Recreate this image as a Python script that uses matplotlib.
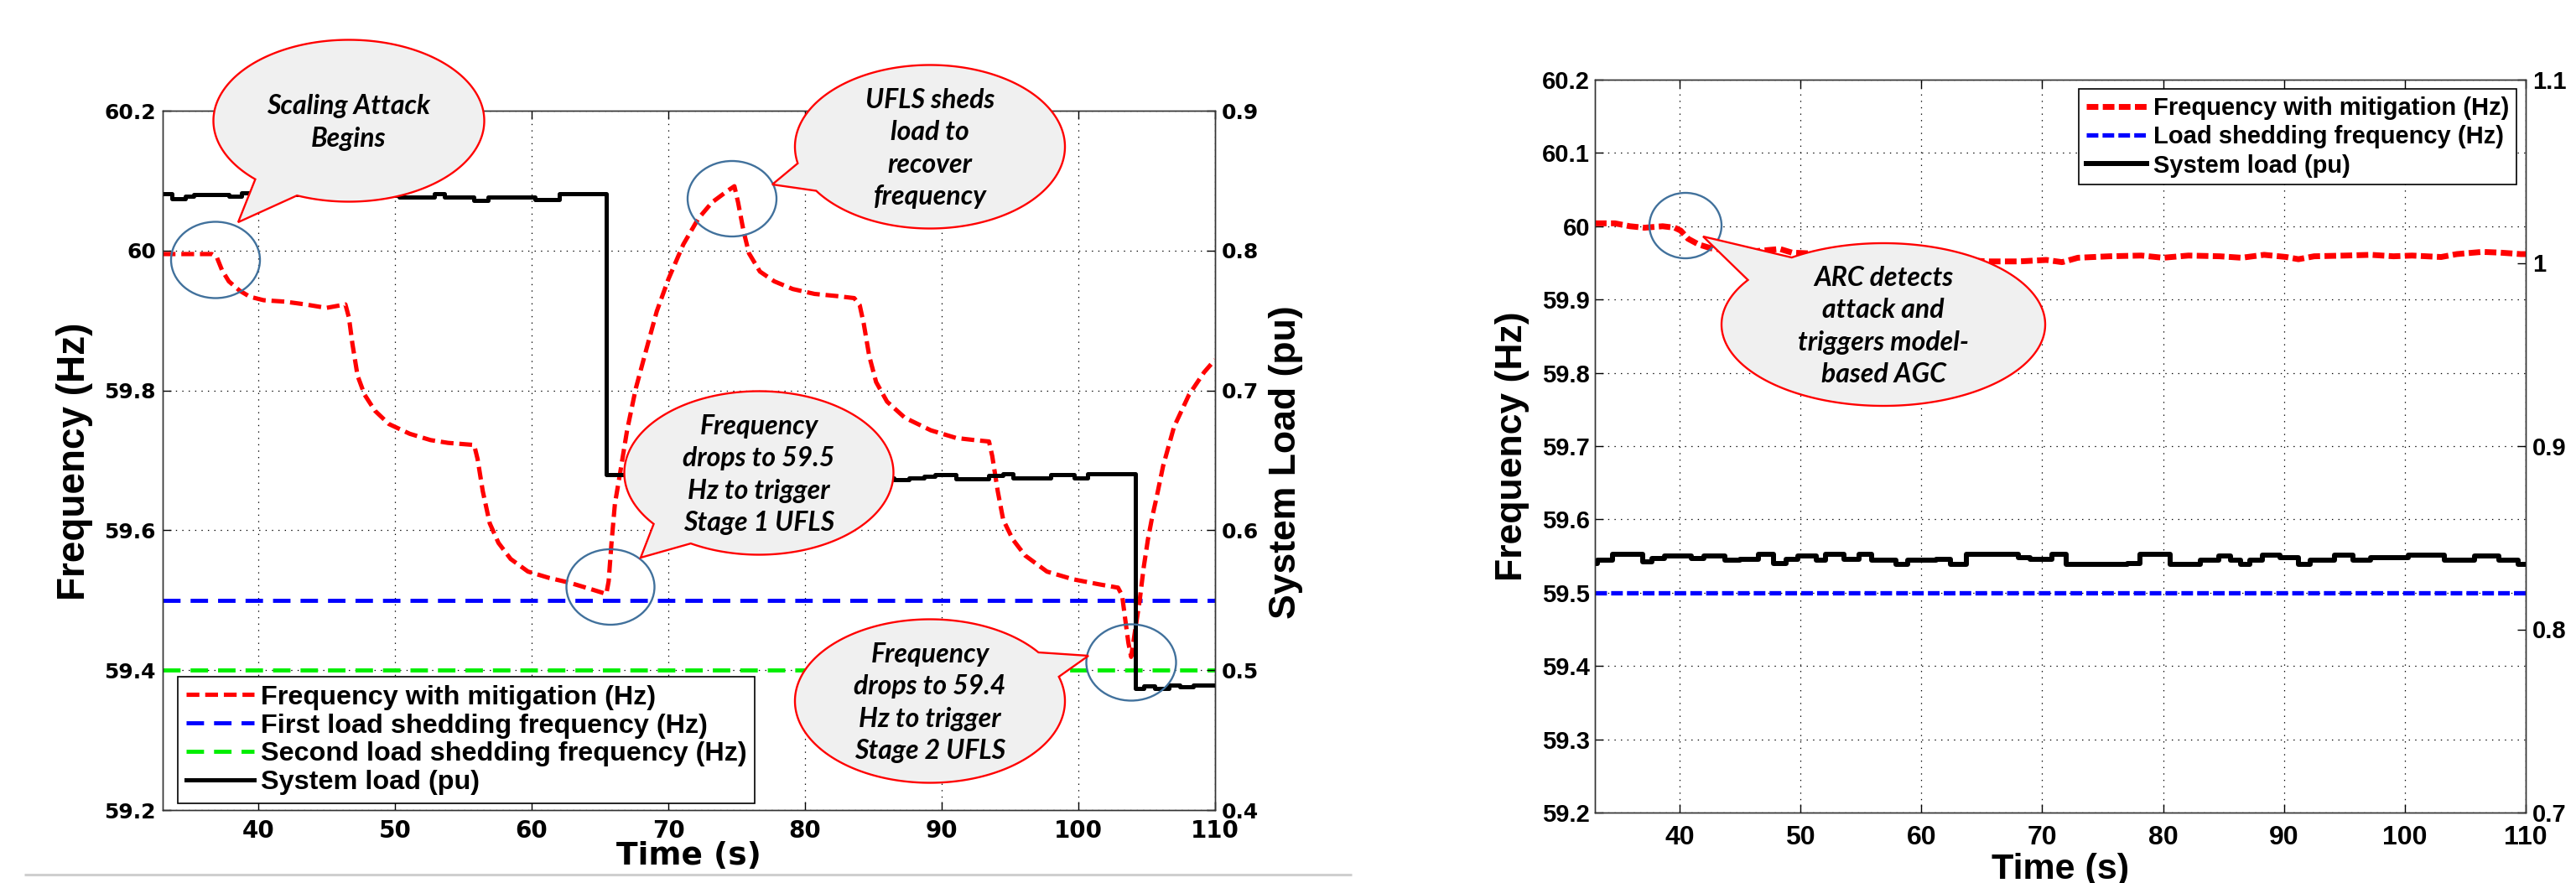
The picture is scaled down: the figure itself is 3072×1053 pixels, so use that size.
import matplotlib
matplotlib.use('Agg')
import matplotlib.pyplot as plt
import numpy as np
from matplotlib.patches import Ellipse, Polygon
from matplotlib.lines import Line2D

plt.rcParams['lines.scale_dashes'] = False

# ---------------- data: left panel ----------------
t_freq_left = [33.0, 36.6, 36.95, 37.34, 37.84, 38.61, 39.37, 40.39, 41.92, 43.44, 44.97, 46.37, 46.63, 46.88,
               47.26, 47.77, 48.53, 49.55, 51.08, 52.6, 53.88, 55.79, 56.04, 56.42, 56.93, 57.57, 58.46, 59.73,
               61.26, 62.78, 64.31, 65.46, 65.63, 65.84, 66.09, 66.48, 66.98, 67.62, 68.38, 69.15, 70.0, 71.1,
               72.2, 73.2, 74.3, 74.83, 75.1, 75.5, 75.9, 76.7, 77.75, 79.1, 80.7, 82.3, 83.6, 84.0, 84.3, 84.7,
               85.2, 86.0, 87.3, 89.2, 91.06, 92.4, 93.46, 93.7, 94.1, 94.5, 95.2, 96.1, 97.7, 99.6, 101.45,
               102.9, 103.2, 103.44, 103.66, 103.86, 104.17, 104.48, 104.78, 105.09, 105.4, 105.7, 106.2, 107.0,
               108.1, 109.2, 110.0]
freq_left = [59.995, 59.995, 59.991, 59.972, 59.956, 59.943, 59.934, 59.929, 59.927, 59.923, 59.918, 59.923,
             59.904, 59.867, 59.821, 59.794, 59.771, 59.752, 59.738, 59.729, 59.725, 59.722, 59.702, 59.656,
             59.61, 59.582, 59.559, 59.541, 59.532, 59.525, 59.516, 59.509, 59.527, 59.582, 59.638, 59.683,
             59.743, 59.803, 59.858, 59.913, 59.959, 60.009, 60.046, 60.069, 60.085, 60.092, 60.069, 60.028,
             59.996, 59.970, 59.956, 59.945, 59.938, 59.935, 59.932, 59.922, 59.895, 59.849, 59.812, 59.784,
             59.761, 59.743, 59.732, 59.729, 59.727, 59.706, 59.656, 59.615, 59.587, 59.564, 59.541, 59.530,
             59.523, 59.518, 59.507, 59.471, 59.439, 59.419, 59.459, 59.499, 59.547, 59.587, 59.619, 59.645,
             59.692, 59.748, 59.794, 59.826, 59.844]

t_load_left = [33.0, 33.65, 34.66, 35.3, 37.84, 38.74, 41.5, 46.5, 50.3, 52.86, 53.6, 55.79, 56.8, 60.24, 62.0,
               65.46, 70.0, 78.0, 86.5, 87.6, 88.7, 89.5, 91.06, 93.46, 94.5, 95.2, 98.0, 99.7, 100.65,
               104.15, 104.8, 105.6, 106.6, 107.4, 108.4, 108.7, 110.0]
load_left = [0.8409, 0.8373, 0.8387, 0.8402, 0.8391, 0.8414, 0.8400, 0.8392, 0.8384, 0.8409, 0.8380, 0.8361,
             0.8384, 0.8364, 0.8409, 0.6400, 0.6388, 0.6375, 0.6361, 0.6372, 0.6384, 0.6400, 0.6368, 0.6391,
             0.6407, 0.6377, 0.6400, 0.6377, 0.6407, 0.4871, 0.4885, 0.4871, 0.4895, 0.4881, 0.4895, 0.4891,
             0.4891]

stage1_freq = 59.5
stage2_freq = 59.4

# ---------------- data: right panel ----------------
t_freq_right = [33.0, 34.65, 35.9, 37.1, 38.6, 39.6, 40.1, 40.7, 41.6, 42.6, 44.06, 45.55, 47.0, 48.3, 49.3,
                63.1, 65.6, 68.1, 70.34, 71.65, 72.95, 75.56, 78.2, 80.0, 82.1, 84.7, 86.5, 88.36, 90.2, 91.2,
                92.5, 95.1, 97.2, 99.06, 100.6, 103.0, 104.3, 106.4, 107.9, 109.6, 110.0]
freq_right = [60.004, 60.004, 60.0, 59.998, 60.0, 59.998, 59.994, 59.983, 59.975, 59.97, 59.967, 59.965, 59.967,
              59.969, 59.964, 59.954, 59.952, 59.952, 59.954, 59.951, 59.957, 59.959, 59.960, 59.957, 59.96,
              59.959, 59.957, 59.961, 59.958, 59.955, 59.959, 59.960, 59.961, 59.959, 59.960, 59.958, 59.962,
              59.965, 59.964, 59.962, 59.962]

t_load_right = [33.0, 33.2, 34.44, 36.96, 37.72, 38.73, 41.0, 42.0, 43.77, 45.03, 46.55, 47.8, 48.8, 49.8, 51.34,
                52.1, 53.6, 54.87, 55.88, 57.9, 58.9, 61.2, 62.4, 63.7, 68.0, 69.0, 70.8, 72.0, 77.07, 78.1,
                80.6, 83.1, 84.6, 85.6, 86.4, 87.2, 88.2, 89.7, 91.2, 92.2, 94.2, 95.7, 97.2, 100.3, 103.3,
                105.8, 107.8, 109.4, 110.0]
load_right = [0.8361, 0.8376, 0.8411, 0.8368, 0.8387, 0.8402, 0.8387, 0.8402, 0.8376, 0.8381, 0.8410, 0.8361,
              0.8384, 0.8399, 0.8376, 0.8410, 0.8381, 0.8410, 0.8376, 0.8356, 0.8376, 0.8381, 0.8353, 0.8410,
              0.8391, 0.8381, 0.8410, 0.8356, 0.8361, 0.8410, 0.8356, 0.8376, 0.8402, 0.8376, 0.8353, 0.8376,
              0.8407, 0.8391, 0.8353, 0.8376, 0.8407, 0.8376, 0.8391, 0.8407, 0.8376, 0.8402, 0.8376, 0.8353,
              0.8353]
shed_freq_right = 59.5

x_ticks = [40, 50, 60, 70, 80, 90, 100, 110]
yL_ticks = [59.2, 59.4, 59.6, 59.8, 60.0, 60.2]
yL_labels = ['59.2', '59.4', '59.6', '59.8', '60', '60.2']
yL2_ticks = [0.4, 0.5, 0.6, 0.7, 0.8, 0.9]
yL2_labels = ['0.4', '0.5', '0.6', '0.7', '0.8', '0.9']
yR_ticks = [59.2, 59.3, 59.4, 59.5, 59.6, 59.7, 59.8, 59.9, 60.0, 60.1, 60.2]
yR_labels = ['59.2', '59.3', '59.4', '59.5', '59.6', '59.7', '59.8', '59.9', '60', '60.1', '60.2']
yR2_ticks = [0.7, 0.8, 0.9, 1.0, 1.1]
yR2_labels = ['0.7', '0.8', '0.9', '1', '1.1']

legend_left = ['Frequency with mitigation (Hz)', 'First load shedding frequency (Hz)',
               'Second load shedding frequency (Hz)', 'System load (pu)']
legend_right = ['Frequency with mitigation (Hz)', 'Load shedding frequency (Hz)', 'System load (pu)']

# ---------------- figure ----------------
W, H = 3072, 1053
fig = plt.figure(figsize=(W / 100, H / 100), dpi=100)
fig.patch.set_facecolor('white')


def rect(l, t, r, b):
    return [l / W, 1 - b / H, (r - l) / W, (b - t) / H]


NARROW = ['Liberation Sans Narrow', 'Liberation Sans', 'DejaVu Sans']
ARIAL = ['Liberation Sans', 'DejaVu Sans']
DEJA = ['DejaVu Sans']
CALLOUT = ['Lato', 'Open Sans', 'DejaVu Sans']

grid_kw = dict(color='black', linestyle=(0, (1, 4.5)), linewidth=0.9)


def style_axes(ax, ax2, tickfam, xsize, ysize, xpad, ypad, y2pad):
    for a in (ax, ax2):
        for s in a.spines.values():
            s.set_linewidth(1.0)
            s.set_color('#333333')
    ax.tick_params(axis='both', direction='in', length=7, width=1.0, top=True, right=False)
    ax.tick_params(axis='x', pad=xpad, labelsize=xsize)
    ax.tick_params(axis='y', pad=ypad, labelsize=ysize)
    ax2.tick_params(axis='y', direction='in', length=7, width=1.0, pad=y2pad, labelsize=ysize)
    for lab in ax.get_xticklabels() + ax.get_yticklabels() + ax2.get_yticklabels():
        lab.set_family(tickfam)
        lab.set_fontweight('bold')
    ax.grid(True, **grid_kw)
    ax.set_axisbelow(True)


# ---------------- left panel ----------------
axL = fig.add_axes(rect(194, 132, 1449, 966))
axL2 = axL.twinx()
axL.set_xlim(33, 110)
axL.set_ylim(59.2, 60.2)
axL2.set_ylim(0.4, 0.9)
axL.set_xticks(x_ticks)
axL.set_xticklabels([str(v) for v in x_ticks])
axL.set_yticks(yL_ticks)
axL.set_yticklabels(yL_labels)
axL2.set_yticks(yL2_ticks)
axL2.set_yticklabels(yL2_labels)

red_l, = axL.plot(t_freq_left, freq_left, color='red', lw=3.7, dashes=(11, 5), zorder=3)
blue_l = axL.axhline(stage1_freq, color='#0000ff', lw=3.5, dashes=(15, 8.6), zorder=2)
green_l = axL.axhline(stage2_freq, color='#00ee00', lw=3.5, dashes=(15, 8.6), zorder=2)
blk_l, = axL2.plot(t_load_left, load_left, color='black', lw=3.6, drawstyle='steps-post', zorder=2)

style_axes(axL, axL2, DEJA, 20, 18, 8, 5.8, 5.8)

legL = axL2.legend([red_l, blue_l, green_l, blk_l], legend_left, loc='lower left',
                   bbox_to_anchor=(0.0143, 0.0096), borderaxespad=0, fancybox=False, framealpha=1,
                   edgecolor='black', handlelength=2.5, handletextpad=0.25, labelspacing=0.12,
                   borderpad=0.3, prop=dict(family=ARIAL, weight='bold', size=23.3))
legL.get_frame().set_linewidth(1.2)
legL.set_zorder(20)

# ---------------- right panel ----------------
axR = fig.add_axes(rect(1902, 95, 3012, 969))
axR2 = axR.twinx()
axR.set_xlim(33, 110)
axR.set_ylim(59.2, 60.2)
axR2.set_ylim(0.7, 1.1)
axR.set_xticks(x_ticks)
axR.set_xticklabels([str(v) for v in x_ticks])
axR.set_yticks(yR_ticks)
axR.set_yticklabels(yR_labels)
axR2.set_yticks(yR2_ticks)
axR2.set_yticklabels(yR2_labels)

red_r, = axR.plot(t_freq_right, freq_right, color='red', lw=5.0, dashes=(10, 3.8), zorder=3)
blue_r = axR.axhline(shed_freq_right, color='#0000ff', lw=3.8, dashes=(10, 3.6), zorder=2)
blk_r, = axR2.plot(t_load_right, load_right, color='black', lw=4.3, drawstyle='steps-post', zorder=2)

style_axes(axR, axR2, ARIAL, 23, 21, 11, 4.3, 5.8)

legR = axR2.legend([red_r, blue_r, blk_r], legend_right, loc='upper right',
                   bbox_to_anchor=(0.990, 0.9874), borderaxespad=0, fancybox=False, framealpha=1,
                   edgecolor='black', handlelength=2.5, handletextpad=0.25, labelspacing=0.22,
                   borderpad=0.3, prop=dict(family=ARIAL, weight='bold', size=21))
legR.get_frame().set_linewidth(1.2)
legR.set_zorder(20)

# ---------------- overlay (labels, callouts) ----------------
ov = fig.add_axes([0, 0, 1, 1], zorder=30)
ov.set_xlim(0, W)
ov.set_ylim(H, 0)
ov.axis('off')
ov.patch.set_alpha(0)

ov.text(821, 1021, 'Time (s)', ha='center', va='center', family=DEJA, weight='bold', size=27)
ov.text(89, 550, 'Frequency (Hz)', ha='center', va='center', rotation=90, family=NARROW, weight='bold', size=33)
ov.text(1533, 551, 'System Load (pu)', ha='center', va='center', rotation=90, family=NARROW, weight='bold',
        size=32)
ov.text(1804, 532, 'Frequency (Hz)', ha='center', va='center', rotation=90, family=ARIAL, weight='bold', size=32)
ov.text(2457, 1048, 'Time (s)', ha='center', va='baseline', family=ARIAL, weight='bold', size=31)

ov.plot([29, 1612], [1043, 1043], color='#cfcfcf', lw=2.2, solid_capstyle='butt')


def bubble(cx, cy, w, h, gap0, gap1, tip, text, size=23):
    a, b = w / 2, h / 2
    th = np.radians(np.linspace(gap1, gap0 + 360, 300))
    pts = np.column_stack([cx + a * np.cos(th), cy + b * np.sin(th)])
    pts = np.vstack([pts, tip])
    ov.add_patch(Polygon(pts, closed=True, fc='#f0f0f0', ec='red', lw=1.7, joinstyle='miter'))
    ov.text(cx, cy + 2, text, ha='center', va='center', family=CALLOUT, weight='bold', style='italic',
            size=size, linespacing=1.38)


def ring(cx, cy, w, h):
    ov.add_patch(Ellipse((cx, cy), w, h, fill=False, ec='#41719c', lw=1.7))


ring(257, 310, 106, 91)
ring(873, 237, 106, 90)
ring(728, 700, 105, 90)
ring(1349, 790, 107, 91)
ring(2010, 269, 86, 78)

bubble(416, 144, 323, 193, 112.5, 133.7, (284, 265), 'Scaling Attack\nBegins')
bubble(1109, 175, 322, 195, 147.4, 168.3, (921, 220), 'UFLS sheds\nload to\nrecover\nfrequency')
bubble(905, 564, 321, 195, 120.4, 141.4, (764, 665), 'Frequency\ndrops to 59.5\nHz to trigger\nStage 1 UFLS')
bubble(1109, 836, 322, 195, -36.5, -17.3, (1298, 782), 'Frequency\ndrops to 59.4\nHz to trigger\nStage 2 UFLS')
bubble(2246, 387, 386, 194, -146.8, -124.5, (2031, 282), 'ARC detects\nattack and\ntriggers model-\nbased AGC')

fig.savefig('out.png', dpi=100, facecolor='white')
